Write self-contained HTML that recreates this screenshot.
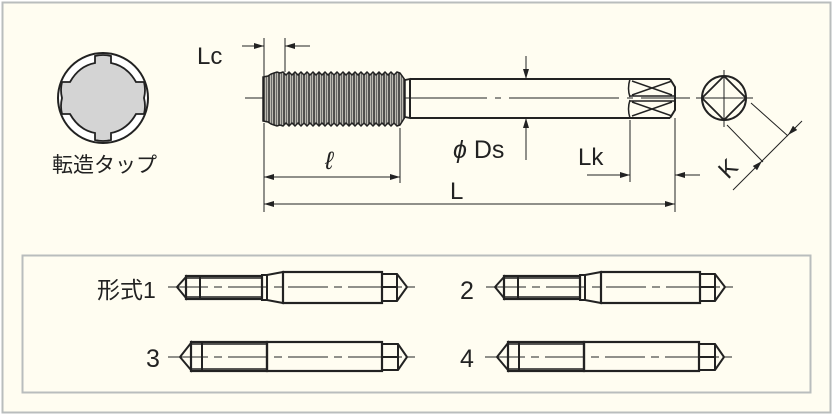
<!DOCTYPE html>
<html><head><meta charset="utf-8"><style>
html,body{margin:0;padding:0;background:#fff}
svg{display:block}
text{font-family:"Liberation Sans","Noto Sans CJK JP",sans-serif;fill:#222}
</style></head><body>
<svg width="833" height="415" viewBox="0 0 833 415" xmlns="http://www.w3.org/2000/svg">
<defs>
<marker id="a" viewBox="0 0 10 6" refX="10" refY="3" markerWidth="11" markerHeight="6" orient="auto" markerUnits="userSpaceOnUse"><path d="M0,0L10,3L0,6z" fill="#222"/></marker>
<pattern id="thr" x="263" y="0" width="5" height="10" patternUnits="userSpaceOnUse"><rect width="5" height="10" fill="#bdbbb2"/><line x1="1" y1="0" x2="1" y2="10" stroke="#222" stroke-width="1.4"/><line x1="3.5" y1="0" x2="3.5" y2="10" stroke="#555" stroke-width="0.8"/></pattern>
</defs>
<rect x="2.5" y="2.5" width="828" height="410" fill="#fffdf1" stroke="#b9bdbd" stroke-width="2"/>
<rect x="22.5" y="255.5" width="788" height="137" fill="#fffdf1" stroke="#b9bdbd" stroke-width="2"/>

<!-- left icon -->
<circle cx="103" cy="98" r="45" fill="#fff" stroke="#222" stroke-width="2"/>
<path d="M95,63 L95,56 Q103,54 111,56 L111,63 Q127,66 136,82 L144,82 Q146,90 144,98 Q146,106 144,114 L136,114 Q127,130 111,133 L111,140 Q103,142 95,140 L95,133 Q79,130 70,114 L62,114 Q60,106 62,98 Q60,90 62,82 L70,82 Q79,66 95,63z" fill="#d4d4d4" stroke="#222" stroke-width="1.8"/>
<text x="52" y="172" font-size="21">転造タップ</text>

<!-- main tap -->
<line x1="245" y1="98" x2="690" y2="98" stroke="#222" stroke-width="1" stroke-dasharray="110,8,6,8"/>
<path d="M263,77 L268,76 L271,74 L274,73 L277,72 L280,73 L283,72 L286,75 L289,72 L292,75 L295,72 L298,75 L301,72 L304,75 L307,72 L310,75 L313,72 L316,75 L319,72 L322,75 L325,72 L328,75 L331,72 L334,75 L337,72 L340,75 L343,72 L346,75 L349,72 L352,75 L355,72 L358,75 L361,72 L364,75 L367,72 L370,75 L373,72 L376,75 L379,72 L382,75 L385,72 L388,75 L391,72 L394,75 L397,72 L400,73 L405,80 L405,117 L400,125 L397,126 L394,123 L391,126 L388,123 L385,126 L382,123 L379,126 L376,123 L373,126 L370,123 L367,126 L364,123 L361,126 L358,123 L355,126 L352,123 L349,126 L346,123 L343,126 L340,123 L337,126 L334,123 L331,126 L328,123 L325,126 L322,123 L319,126 L316,123 L313,126 L310,123 L307,126 L304,123 L301,126 L298,123 L295,126 L292,123 L289,126 L286,123 L283,126 L280,125 L277,126 L274,125 L271,124 L268,122 L263,121z" fill="url(#thr)" stroke="#222" stroke-width="1.5"/>
<path d="M405,80 L410,79 L410,118 L405,117" fill="none" stroke="#222" stroke-width="1.8"/>
<line x1="410" y1="79" x2="670" y2="79" stroke="#222" stroke-width="2"/>
<line x1="410" y1="118" x2="670" y2="118" stroke="#222" stroke-width="2"/>
<line x1="410" y1="79" x2="410" y2="118" stroke="#222" stroke-width="2"/>
<path d="M670,79 L675,87 L675,110 L670,118" fill="none" stroke="#222" stroke-width="2"/>
<path d="M630,79 Q627,89 630,97 M630,100 Q627,109 630,118 M632,81 L672,95 M632,95 L672,81 M632,102 L672,116 M632,116 L672,102 M630,96 L675,96 M630,101 L675,101" fill="none" stroke="#222" stroke-width="1.5"/>

<!-- Lc -->
<line x1="264" y1="38" x2="264" y2="76" stroke="#222"/>
<line x1="285" y1="38" x2="285" y2="72" stroke="#222"/>
<line x1="242" y1="46" x2="264" y2="46" stroke="#222" marker-end="url(#a)"/>
<line x1="310" y1="46" x2="285" y2="46" stroke="#222" marker-end="url(#a)"/>
<text x="197" y="64" font-size="24">Lc</text>

<!-- l and L -->
<line x1="264" y1="123" x2="264" y2="212" stroke="#222"/>
<line x1="400" y1="128" x2="400" y2="183" stroke="#222"/>
<line x1="675" y1="118" x2="675" y2="212" stroke="#222"/>
<line x1="630" y1="120" x2="630" y2="182" stroke="#222"/>
<line x1="330" y1="177" x2="264" y2="177" stroke="#222" marker-end="url(#a)"/>
<line x1="330" y1="177" x2="400" y2="177" stroke="#222" marker-end="url(#a)"/>
<text x="325" y="169" font-size="25" font-style="italic">ℓ</text>
<line x1="460" y1="204" x2="264" y2="204" stroke="#222" marker-end="url(#a)"/>
<line x1="460" y1="204" x2="675" y2="204" stroke="#222" marker-end="url(#a)"/>
<text x="450" y="199" font-size="24">L</text>

<!-- Ds -->
<line x1="526" y1="56" x2="526" y2="79" stroke="#222" marker-end="url(#a)"/>
<line x1="526" y1="160" x2="526" y2="118" stroke="#222" marker-end="url(#a)"/>
<text x="453" y="158" font-size="25"><tspan font-style="italic">ϕ</tspan> Ds</text>

<!-- Lk -->
<line x1="587" y1="175" x2="630" y2="175" stroke="#222" marker-end="url(#a)"/>
<line x1="700" y1="175" x2="675" y2="175" stroke="#222" marker-end="url(#a)"/>
<text x="578" y="165" font-size="24">Lk</text>

<!-- end view -->
<circle cx="724" cy="98" r="22" fill="none" stroke="#222" stroke-width="2"/>
<path d="M724,76 L746,98 L724,120 L702,98z" fill="none" stroke="#222" stroke-width="1.8"/>
<line x1="724" y1="70" x2="724" y2="127" stroke="#222"/>
<line x1="696" y1="98" x2="753" y2="98" stroke="#222"/>
<line x1="751" y1="103" x2="788" y2="136" stroke="#222"/>
<line x1="727" y1="125" x2="763" y2="162" stroke="#222"/>
<line x1="802" y1="121" x2="788" y2="135" stroke="#222" marker-end="url(#a)"/>
<line x1="733" y1="190" x2="762" y2="161" stroke="#222" marker-end="url(#a)"/>
<line x1="788" y1="135" x2="762" y2="161" stroke="#222"/>
<text x="0" y="0" font-size="24" transform="translate(728,180) rotate(-45)">K</text>

<!-- bottom -->
<g id="t1" stroke="#222" fill="none">
<line x1="168" y1="287" x2="415" y2="287" stroke-width="1" stroke-dasharray="40,6,8,6"/>
<path d="M177,287 L186,277 L186,298z" stroke-width="2"/>
<rect x="186" y="276" width="76" height="23" stroke-width="2.2"/>
<line x1="186" y1="278" x2="262" y2="278" stroke-width="1.5"/>
<line x1="186" y1="297" x2="262" y2="297" stroke-width="1.5"/>
<line x1="200" y1="276" x2="200" y2="299" stroke-width="2"/>
<path d="M262,275 L267,275 L283,272 L283,303 L267,300 L262,300z M267,275 L267,300" stroke-width="2"/>
<rect x="283" y="272" width="99" height="31" stroke-width="2.2"/>
<path d="M382,274 L397,274 L407,287 L397,301 L382,301z M397,274 L397,301 M382,287 L397,287" stroke-width="2"/>
</g>
<g id="t3" stroke="#222" fill="none">
<line x1="168" y1="357" x2="415" y2="357" stroke-width="1" stroke-dasharray="40,6,8,6"/>
<path d="M180,357 L191,343 L191,370z" stroke-width="2"/>
<rect x="191" y="342" width="76" height="29" stroke-width="2.2"/>
<line x1="191" y1="344" x2="267" y2="344" stroke-width="1.5"/>
<line x1="191" y1="369" x2="267" y2="369" stroke-width="1.5"/>
<line x1="202" y1="342" x2="202" y2="371" stroke-width="2"/>
<rect x="267" y="342" width="115" height="29" stroke-width="2.2"/>
<path d="M382,344 L398,344 L407,357 L398,370 L382,370z M398,344 L398,370 M382,357 L398,357" stroke-width="2"/>
</g>
<use href="#t1" transform="translate(318,0)"/>
<use href="#t3" transform="translate(317,0)"/>
<text x="97" y="298" font-size="23">形式1</text>
<text x="460" y="299" font-size="25">2</text>
<text x="146" y="367" font-size="25">3</text>
<text x="460" y="367" font-size="25">4</text>
</svg>
</body></html>
